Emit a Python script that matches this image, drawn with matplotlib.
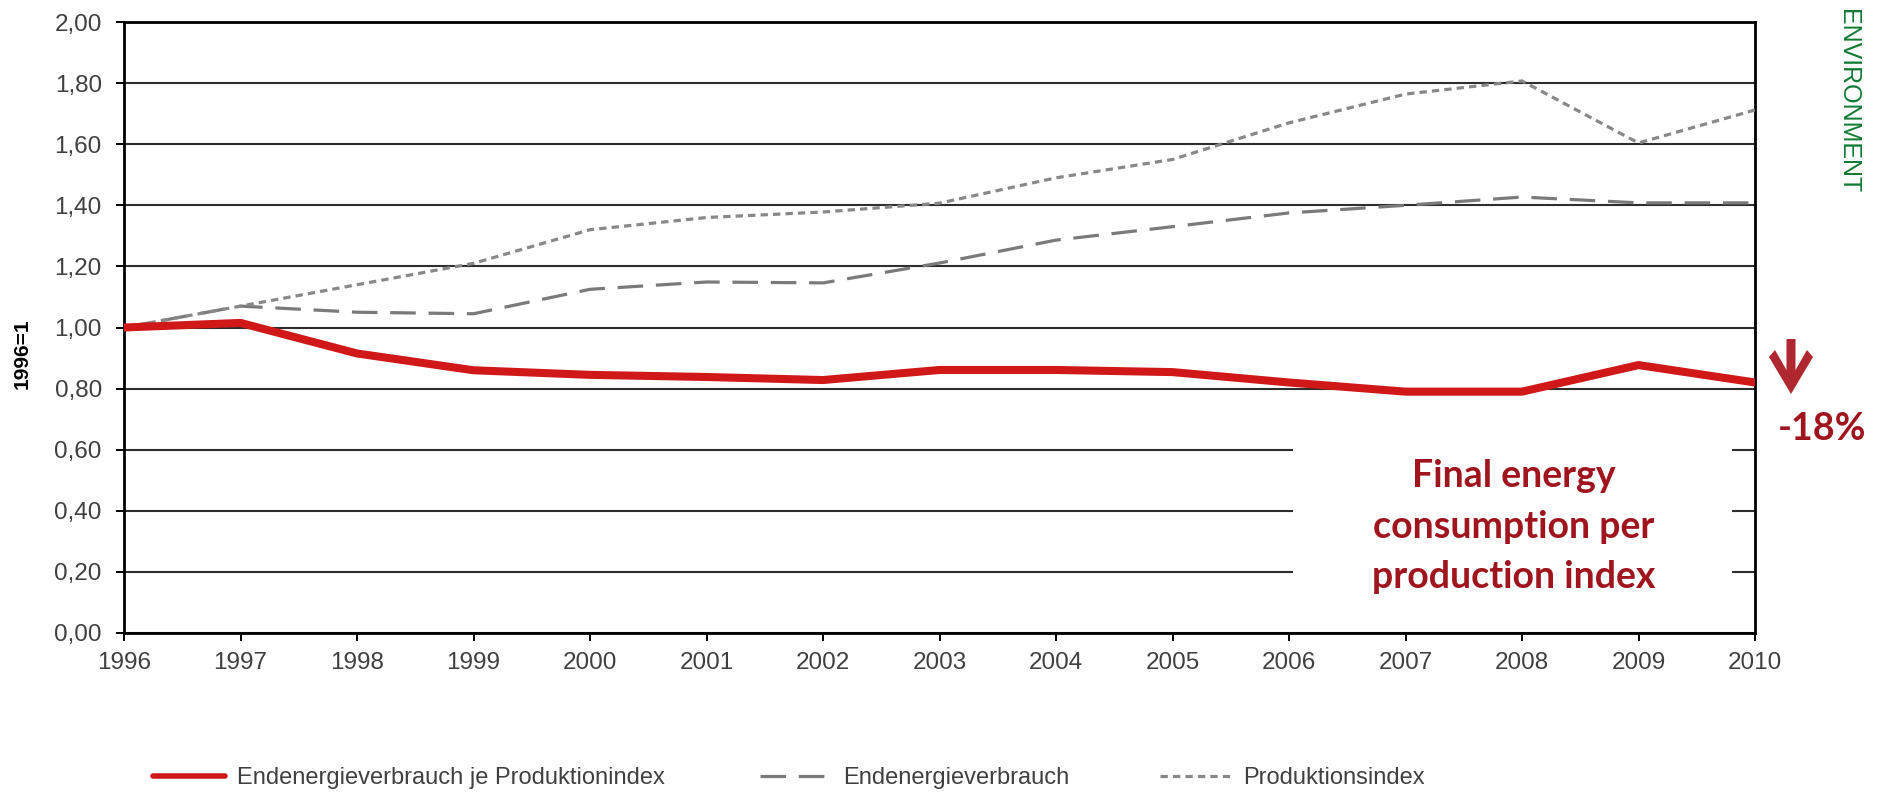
import matplotlib
matplotlib.use('Agg')
import matplotlib.pyplot as plt
from matplotlib.lines import Line2D
from matplotlib.patches import Rectangle, Polygon
from matplotlib.ticker import FuncFormatter

W, H = 1883, 795

years = list(range(1996, 2011))
energy_per_production = [1.00, 1.015, 0.915, 0.86, 0.845, 0.838, 0.828, 0.861,
                         0.861, 0.854, 0.82, 0.79, 0.79, 0.877, 0.82]
final_energy = [1.00, 1.07, 1.05, 1.045, 1.125, 1.149, 1.146, 1.211,
                1.286, 1.33, 1.375, 1.40, 1.427, 1.408, 1.408]
production_index = [1.00, 1.07, 1.14, 1.21, 1.32, 1.36, 1.378, 1.407,
                    1.49, 1.55, 1.67, 1.764, 1.807, 1.604, 1.712]
y_ticks = [0.0, 0.2, 0.4, 0.6, 0.8, 1.0, 1.2, 1.4, 1.6, 1.8, 2.0]

legend_labels = ['Endenergieverbrauch je Produktionindex',
                 'Endenergieverbrauch', 'Produktionsindex']

RED = '#D01818'
DARK_RED = '#A0141E'
GREEN = '#127A34'
TICK_GRAY = '#404040'

plt.rcParams['font.family'] = ['Liberation Sans', 'DejaVu Sans']


def fig_xy(x, y):
    """Pixel position (origin top-left) to figure fraction."""
    return x / W, 1 - y / H


fig = plt.figure(figsize=(W / 100, H / 100), dpi=100)
fig.patch.set_facecolor('white')

left, top = fig_xy(124, 22)
right, bottom = fig_xy(1755, 633)
ax = fig.add_axes([left, bottom, right - left, top - bottom])

line_styles = [
    dict(color=RED, lw=5.8, solid_capstyle='round', zorder=4),
    dict(color='#7a7a7a', lw=2.3, dashes=(8, 4), zorder=3),
    dict(color='#888888', lw=2.3, dashes=(2.3, 1.6), zorder=3),
]
series = [energy_per_production, final_energy, production_index]
for values, style in zip(series, line_styles):
    ax.plot(years, values, **style)

ax.set_xlim(years[0], years[-1])
ax.set_ylim(0, 2.0)
ax.set_xticks(years)
ax.set_yticks(y_ticks)
ax.yaxis.set_major_formatter(FuncFormatter(lambda v, _: f'{v:.2f}'.replace('.', ',')))

ax.set_axisbelow(True)
ax.grid(axis='y', color='#2e2e2e', lw=1.5)
for side in ['left', 'right', 'top', 'bottom']:
    ax.spines[side].set_linewidth(2.0)
    ax.spines[side].set_color('black')
ax.tick_params(axis='both', direction='out', length=6, width=1.4, color='black',
               labelsize=17.5, labelcolor=TICK_GRAY)
ax.tick_params(axis='y', pad=10)
ax.tick_params(axis='x', pad=8)

# y axis label
fig.text(*fig_xy(22, 354), '1996=1', rotation=90, ha='center', va='center',
         fontsize=15, fontweight='bold', color='black')

# legend: one entry per legend so each can sit at its own column
fs_leg = 17
legend_x = [153, 760, 1160]
handle_len = [3.05, 2.9, 3.0]
text_pad = [0.5, 0.6, 0.5]
for label, style, x, hl, tp in zip(legend_labels, line_styles, legend_x, handle_len, text_pad):
    kw = {k: v for k, v in style.items() if k != 'zorder'}
    if kw['lw'] > 5:
        kw['lw'] = 4.0
    handle = Line2D([], [], **kw)
    leg = fig.legend([handle], [label], loc='center left',
                     bbox_to_anchor=fig_xy(x, 778), frameon=False,
                     borderpad=0, borderaxespad=0, handlelength=hl,
                     handletextpad=tp, fontsize=fs_leg)
    for t in leg.get_texts():
        t.set_color(TICK_GRAY)

# white panel holding the callout text
x0, y0 = fig_xy(1293, 612)
x1, y1 = fig_xy(1732, 443)
fig.patches.append(Rectangle((x0, y0), x1 - x0, y1 - y0, transform=fig.transFigure,
                             facecolor='white', edgecolor='none', zorder=5))

callout = ['Final energy', 'consumption per', 'production index']
for line, base in zip(callout, [487, 538, 588]):
    fig.text(*fig_xy(1514, base), line, ha='center', va='baseline',
             fontsize=27, fontweight='bold', color=DARK_RED, family='Lato', zorder=6)

fig.text(*fig_xy(1822, 440), '-18%', ha='center', va='baseline',
         fontsize=27, fontweight='bold', color=DARK_RED, family='Lato')

# downward arrow next to the change label
arrow_px = [(1791, 394), (1813, 357), (1807, 350), (1795.5, 370), (1795.5, 339),
            (1786.5, 339), (1786.5, 370), (1775, 350), (1769, 357)]
arrow_pts = [fig_xy(x, y) for x, y in arrow_px]
fig.patches.append(Polygon(arrow_pts, closed=True, transform=fig.transFigure,
                           facecolor='#B0282F', edgecolor='none', zorder=6))

fig.text(*fig_xy(1848, 9), 'ENVIRONMENT', rotation=-90, ha='center', va='top',
         fontsize=18, color=GREEN)

fig.savefig('out.png', dpi=100, facecolor='white')
